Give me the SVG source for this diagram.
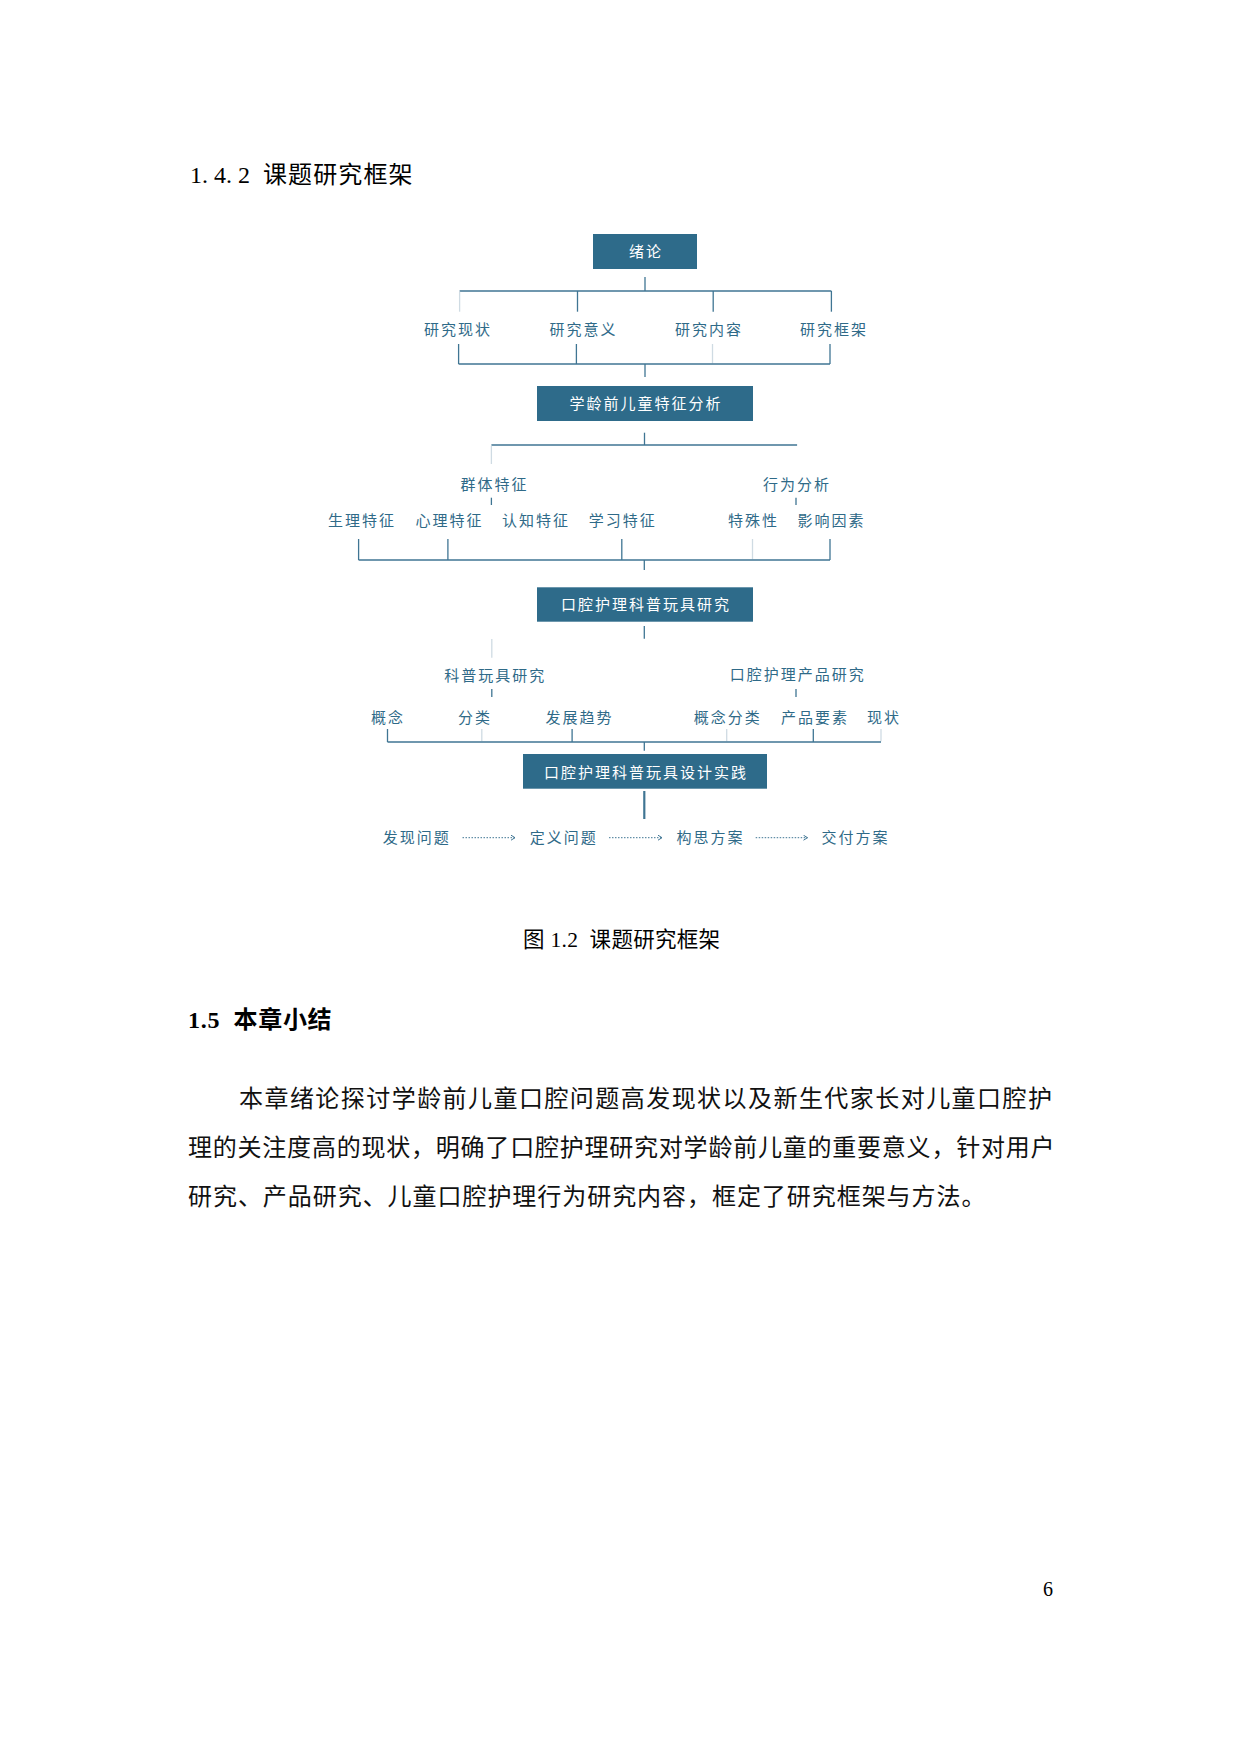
<svg xmlns="http://www.w3.org/2000/svg" width="1240" height="1754" viewBox="0 0 1240 1754">
<defs>
<style>
.page{fill:#000;font-family:"Liberation Serif","Noto Sans CJK SC",serif}
.hd{font-family:"Liberation Serif","Noto Sans CJK SC",sans-serif;font-size:24px;fill:#000}
.para{font-family:"Liberation Serif","Noto Sans CJK SC",serif;font-size:24px;fill:#111}
.box{fill:#2e6b8a}
.bt{font-family:"Noto Sans CJK SC","Noto Sans",sans-serif;font-size:15px;fill:#fff;text-anchor:middle;letter-spacing:2px}
.lb{font-family:"Noto Sans CJK SC","Noto Sans",sans-serif;font-size:15px;fill:#2f6a88;text-anchor:middle;letter-spacing:2px}
.ln{stroke:#3f7593;stroke-width:1.3;fill:none}
.lt{stroke:#cfdbe3;stroke-width:1.3;fill:none}
.thick{stroke:#3f7593;stroke-width:2.2;fill:none}
.dot{stroke:#3f7593;stroke-width:1;stroke-dasharray:1.5 1.5;fill:none}
</style>
<marker id="arr" markerWidth="8" markerHeight="8" refX="5" refY="3" orient="auto" markerUnits="userSpaceOnUse">
<path d="M1,0.5 L5,3 L1,5.5" fill="none" stroke="#3f7593" stroke-width="1"/>
</marker>
</defs>
<rect width="1240" height="1754" fill="#fff"/>

<g id="heading-142">
<text x="190" y="183" class="hd">1. 4. 2</text>
<text x="263" y="183" class="hd" style="font-family:'Noto Sans CJK SC',sans-serif;letter-spacing:1.1px">课题研究框架</text>
</g>

<g id="connectors">
<!-- section 1 -->
<line class="ln" x1="645" y1="277" x2="645" y2="291"/>
<line class="ln" x1="459.6" y1="291" x2="831.4" y2="291"/>
<line class="lt" x1="459.6" y1="291.7" x2="459.6" y2="311.7"/>
<line class="ln" x1="577.5" y1="291" x2="577.5" y2="311.7"/>
<line class="ln" x1="713.2" y1="291" x2="713.2" y2="311.7"/>
<line class="ln" x1="831.4" y1="291" x2="831.4" y2="311.7"/>
<line class="ln" x1="458.6" y1="344" x2="458.6" y2="364"/>
<line class="ln" x1="576.4" y1="344" x2="576.4" y2="364"/>
<line class="lt" x1="712.5" y1="344" x2="712.5" y2="363.3"/>
<line class="ln" x1="830" y1="344" x2="830" y2="364"/>
<line class="ln" x1="458.6" y1="364" x2="830" y2="364"/>
<line class="ln" x1="645" y1="364" x2="645" y2="377"/>
<!-- section 2 -->
<line class="ln" x1="644.5" y1="432.7" x2="644.5" y2="445"/>
<line class="ln" x1="491.4" y1="445" x2="797.1" y2="445"/>
<line class="lt" x1="491.4" y1="445.7" x2="491.4" y2="464"/>
<line class="ln" x1="491.4" y1="497.7" x2="491.4" y2="505"/>
<line class="ln" x1="796" y1="497.7" x2="796" y2="505"/>
<line class="ln" x1="358.6" y1="539" x2="358.6" y2="560"/>
<line class="ln" x1="447.9" y1="539" x2="447.9" y2="560"/>
<line class="ln" x1="621.8" y1="539" x2="621.8" y2="560"/>
<line class="lt" x1="752.5" y1="539" x2="752.5" y2="559.3"/>
<line class="ln" x1="830" y1="539" x2="830" y2="560"/>
<line class="ln" x1="358.6" y1="560" x2="830" y2="560"/>
<line class="ln" x1="644.3" y1="560" x2="644.3" y2="570"/>
<!-- section 3 -->
<line class="ln" x1="644.3" y1="626" x2="644.3" y2="638.7"/>
<line class="lt" x1="491.8" y1="639" x2="491.8" y2="657.7"/>
<line class="ln" x1="491.8" y1="689" x2="491.8" y2="697"/>
<line class="ln" x1="796" y1="689" x2="796" y2="697"/>
<line class="ln" x1="387.5" y1="729" x2="387.5" y2="742"/>
<line class="lt" x1="481.8" y1="729" x2="481.8" y2="741.3"/>
<line class="ln" x1="572.1" y1="729" x2="572.1" y2="742"/>
<line class="lt" x1="726.7" y1="729" x2="726.7" y2="741.3"/>
<line class="ln" x1="813.3" y1="729" x2="813.3" y2="742"/>
<line class="lt" x1="881" y1="729" x2="881" y2="741.3"/>
<line class="ln" x1="387.5" y1="742" x2="881" y2="742"/>
<line class="ln" x1="644.3" y1="742" x2="644.3" y2="750.7"/>
<!-- section 4 -->
<line class="thick" x1="644.3" y1="791" x2="644.3" y2="819"/>
<line class="dot" x1="462.5" y1="837.7" x2="515" y2="837.7" marker-end="url(#arr)"/>
<line class="dot" x1="609" y1="837.7" x2="662" y2="837.7" marker-end="url(#arr)"/>
<line class="dot" x1="755.7" y1="837.7" x2="807.5" y2="837.7" marker-end="url(#arr)"/>
</g>

<g id="n-xulun"><rect class="box" x="593" y="234" width="104" height="35"/><text class="bt" x="646" y="257">绪论</text></g>
<g id="n-xianzhuang"><text class="lb" x="458" y="335">研究现状</text></g>
<g id="n-yiyi"><text class="lb" x="583.5" y="335">研究意义</text></g>
<g id="n-neirong"><text class="lb" x="709" y="335">研究内容</text></g>
<g id="n-kuangjia"><text class="lb" x="834" y="335">研究框架</text></g>

<g id="n-tezheng"><rect class="box" x="537" y="386" width="216" height="35"/><text class="bt" x="646" y="409">学龄前儿童特征分析</text></g>
<g id="n-qunti"><text class="lb" x="494.5" y="490">群体特征</text></g>
<g id="n-xingwei"><text class="lb" x="797" y="490">行为分析</text></g>
<g id="n-shengli"><text class="lb" x="362" y="526">生理特征</text></g>
<g id="n-xinli"><text class="lb" x="449.4" y="526">心理特征</text></g>
<g id="n-renzhi"><text class="lb" x="536" y="526">认知特征</text></g>
<g id="n-xuexi"><text class="lb" x="622.8" y="526">学习特征</text></g>
<g id="n-teshu"><text class="lb" x="753.5" y="526">特殊性</text></g>
<g id="n-yingxiang"><text class="lb" x="831.5" y="526">影响因素</text></g>

<g id="n-wanju"><rect class="box" x="537" y="587.3" width="216" height="34.4"/><text class="bt" x="646" y="610">口腔护理科普玩具研究</text></g>
<g id="n-kepu"><text class="lb" x="495.3" y="680.5">科普玩具研究</text></g>
<g id="n-chanpin"><text class="lb" x="797.7" y="679.5">口腔护理产品研究</text></g>
<g id="n-gainian"><text class="lb" x="388" y="723">概念</text></g>
<g id="n-fenlei"><text class="lb" x="475" y="723">分类</text></g>
<g id="n-fazhan"><text class="lb" x="579.4" y="723">发展趋势</text></g>
<g id="n-gnfl"><text class="lb" x="727.8" y="723">概念分类</text></g>
<g id="n-yaosu"><text class="lb" x="815" y="723">产品要素</text></g>
<g id="n-xz"><text class="lb" x="884" y="723">现状</text></g>

<g id="n-sheji"><rect class="box" x="523" y="754" width="244" height="34.7"/><text class="bt" x="646" y="777.5">口腔护理科普玩具设计实践</text></g>
<g id="n-faxian"><text class="lb" x="416.7" y="843.2">发现问题</text></g>
<g id="n-dingyi"><text class="lb" x="563.7" y="843.2">定义问题</text></g>
<g id="n-gousi"><text class="lb" x="710.6" y="843.2">构思方案</text></g>
<g id="n-jiaofu"><text class="lb" x="855.6" y="843.2">交付方案</text></g>

<g id="caption">
<text x="523" y="947" class="page" font-size="21.5" xml:space="preserve" style="letter-spacing:0.3px">图 1.2  课题研究框架</text>
</g>

<g id="heading-15">
<text x="188" y="1028" class="page" font-size="24" font-weight="bold" xml:space="preserve" style="letter-spacing:0.7px">1.5  本章小结</text>
</g>

<g id="paragraph">
<text x="239" y="1107" class="para" style="letter-spacing:1.45px">本章绪论探讨学龄前儿童口腔问题高发现状以及新生代家长对儿童口腔护</text>
<text x="188" y="1156" class="para" style="letter-spacing:0.78px">理的关注度高的现状，明确了口腔护理研究对学龄前儿童的重要意义，针对用户</text>
<text x="188" y="1205" class="para" style="letter-spacing:0.95px">研究、产品研究、儿童口腔护理行为研究内容，框定了研究框架与方法。</text>
</g>

<g id="page-number">
<text x="1048" y="1596" class="page" font-size="20" text-anchor="middle">6</text>
</g>
</svg>
